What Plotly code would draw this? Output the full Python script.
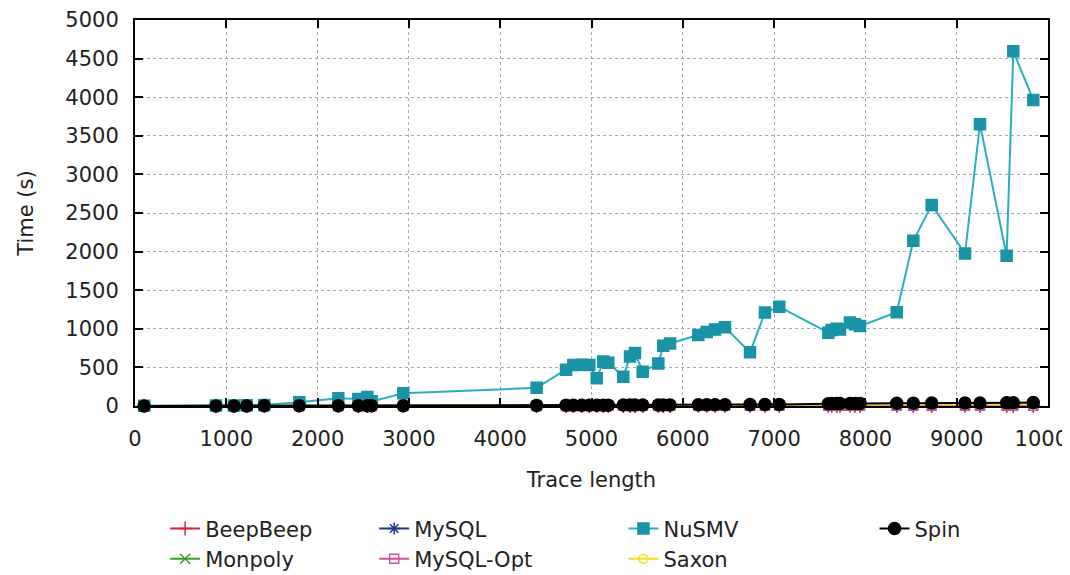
import plotly.graph_objects as go

trace_length = [100, 887, 1084, 1223, 1416, 1800, 2227, 2446, 2545, 2592, 2939,
                4399, 4721, 4801, 4893, 4976, 5057, 5129, 5184, 5348, 5422, 5476,
                5561, 5732, 5786, 5860, 6170, 6262, 6353, 6462, 6736, 6900, 7057,
                7594, 7631, 7686, 7722, 7831, 7886, 7941, 8343, 8525, 8726, 9091,
                9255, 9547, 9620, 9839]

nusmv = [2, 5, 8, 10, 14, 50, 100, 90, 115, 60, 165,
         235, 470, 530, 535, 530, 360, 575, 560, 380, 640, 685,
         445, 550, 780, 810, 920, 960, 990, 1020, 695, 1210, 1285,
         950, 985, 1000, 990, 1080, 1060, 1035, 1215, 2140, 2605, 1975,
         3650, 1945, 4595, 3965]

spin = [0, 1, 1, 1, 2, 2, 3, 3, 3, 3, 4,
        8, 9, 9, 10, 10, 10, 11, 11, 12, 12, 12,
        13, 14, 14, 14, 16, 16, 17, 17, 18, 19, 19,
        30, 31, 31, 32, 33, 33, 34, 36, 37, 38, 40,
        40, 42, 42, 44]

beepbeep = [0, 0, 0, 0, 0, 0, 1, 1, 1, 1, 1,
            1, 1, 1, 1, 1, 1, 1, 1, 1, 1, 1,
            1, 1, 1, 1, 2, 2, 2, 2, 2, 2, 2,
            2, 2, 2, 2, 2, 2, 2, 3, 3, 3, 3,
            3, 3, 3, 3]

monpoly = [0, 1, 1, 1, 1, 2, 2, 2, 2, 2, 3,
           4, 5, 5, 5, 5, 6, 6, 6, 6, 6, 7,
           7, 7, 7, 7, 8, 8, 8, 9, 9, 9, 10,
           11, 11, 11, 11, 12, 12, 12, 13, 13, 14, 15,
           15, 16, 16, 16]

mysql = [0, 1, 1, 1, 1, 1, 1, 1, 1, 1, 2,
         2, 3, 3, 3, 3, 3, 3, 3, 3, 4, 4,
         4, 4, 4, 4, 5, 5, 5, 5, 5, 5, 6,
         6, 6, 6, 6, 6, 6, 7, 7, 7, 7, 8,
         8, 8, 8, 8]

mysql_opt = [0, 0, 0, 0, 0, 1, 1, 1, 1, 1, 1,
             1, 1, 1, 2, 2, 2, 2, 2, 2, 2, 2,
             2, 2, 2, 2, 2, 3, 3, 3, 3, 3, 3,
             3, 3, 3, 3, 3, 3, 3, 4, 4, 4, 4,
             4, 4, 4, 4]

saxon = [1, 2, 2, 2, 3, 3, 4, 4, 4, 4, 5,
         7, 8, 8, 8, 8, 9, 9, 9, 10, 10, 10,
         10, 11, 11, 11, 12, 12, 13, 13, 13, 14, 14,
         16, 16, 16, 17, 17, 17, 17, 18, 19, 19, 20,
         20, 21, 21, 22]

series = [
    # name, values, color, symbol, size, legend column, rank
    ("BeepBeep", beepbeep, "#d8243f", "cross-thin", 10, "legend", 1),
    ("Monpoly", monpoly, "#3f9a2c", "x-thin", 10, "legend", 2),
    ("MySQL", mysql, "#1f3c8c", "asterisk", 10, "legend2", 1),
    ("MySQL-Opt", mysql_opt, "#d0509c", "square-open", 9, "legend2", 2),
    ("Saxon", saxon, "#f2e21c", "circle-open", 9, "legend3", 2),
    ("NuSMV", nusmv, "#2aaec2", "square", 11, "legend3", 1),
    ("Spin", spin, "#000000", "circle", 12, "legend4", 1),
]

fig = go.Figure()
for name, vals, color, sym, size, leg, rank in series:
    mcolor = "#1a93a6" if name == "NuSMV" else color
    fig.add_trace(go.Scatter(
        x=trace_length, y=vals, name=name, mode="lines+markers",
        line=dict(color=color, width=2),
        marker=dict(symbol=sym, size=size, color=mcolor,
                    line=dict(color=mcolor, width=1.5)),
        cliponaxis=False, legend=leg, legendrank=rank,
    ))

font = "DejaVu Sans, sans-serif"
leg_common = dict(orientation="v", y=-0.265, xanchor="left", yanchor="top",
                  font=dict(size=21, family=font, color="#222"),
                  tracegroupgap=0, bgcolor="rgba(0,0,0,0)")
fig.update_layout(
    width=1062, height=567,
    margin=dict(l=127, r=22, t=12, b=169, autoexpand=False),
    paper_bgcolor="white", plot_bgcolor="white",
    font=dict(family=font, size=21, color="#222"),
    showlegend=True,
    legend=dict(x=0.033, **leg_common),
    legend2=dict(x=0.262, **leg_common),
    legend3=dict(x=0.535, **leg_common),
    legend4=dict(x=0.81, **leg_common),
    xaxis=dict(range=[0, 10000], dtick=1000, tick0=0, tickformat="d",
               showline=True, linecolor="black", linewidth=2, mirror="allticks",
               ticks="inside", ticklen=8, tickwidth=2, tickcolor="black",
               showgrid=True, gridcolor="#aaaaaa", griddash="dot", gridwidth=1,
               zeroline=False, ticklabelstandoff=13, automargin=False,
               ticklabeloverflow="allow",
               title=dict(text="Trace length", standoff=22, font=dict(size=21))),
    yaxis=dict(range=[0, 5000], dtick=500, tick0=0, tickformat="d",
               showline=True, linecolor="black", linewidth=2, mirror="allticks",
               ticks="inside", ticklen=8, tickwidth=2, tickcolor="black",
               showgrid=True, gridcolor="#aaaaaa", griddash="dot", gridwidth=1,
               zeroline=False, ticklabelstandoff=10, automargin=False,
               title=dict(text="Time (s)", standoff=26, font=dict(size=21))),
)

fig.write_html("out.html")
